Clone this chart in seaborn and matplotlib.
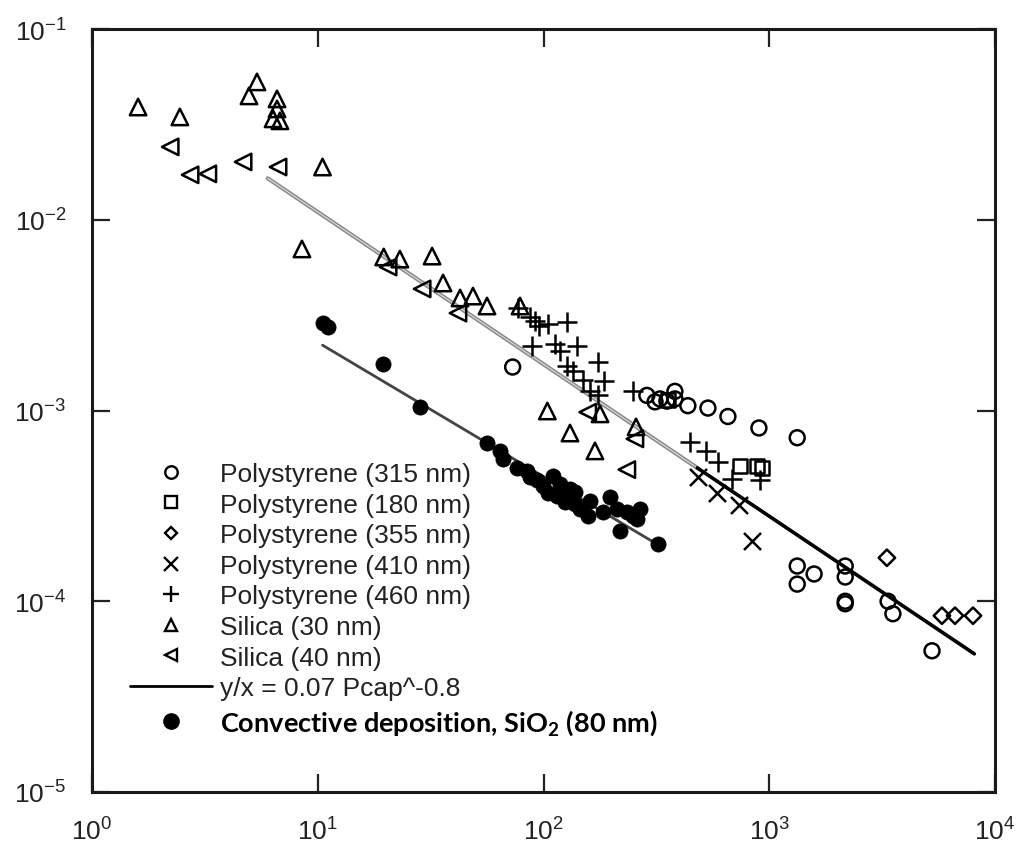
import numpy as np
import pandas as pd
import matplotlib
matplotlib.use("Agg")
import matplotlib.pyplot as plt
import seaborn as sns
from matplotlib.lines import Line2D
from matplotlib.ticker import LogLocator, NullLocator

# Polystyrene (315 nm)
ps315_x = [73, 287, 312, 328, 352, 382, 382, 436, 535, 656, 900, 1330, 1330, 1330, 1580, 2170, 2170, 2170, 2170, 3360, 3530, 5260]
ps315_y = [1.69e-3, 1.20e-3, 1.11e-3, 1.15e-3, 1.12e-3, 1.26e-3, 1.15e-3, 1.06e-3, 1.03e-3, 9.3e-4, 8.1e-4, 7.2e-4,
           1.53e-4, 1.23e-4, 1.39e-4, 1.53e-4, 1.34e-4, 1.0e-4, 9.7e-5, 1.0e-4, 8.6e-5, 5.5e-5]
# Polystyrene (180 nm)
ps180_x = [355, 742, 883, 929]
ps180_y = [1.13e-3, 5.1e-4, 5.1e-4, 5.0e-4]
# Polystyrene (355 nm)
ps355_x = [3320, 5820, 6650, 7990]
ps355_y = [1.69e-4, 8.4e-5, 8.4e-5, 8.4e-5]
# Polystyrene (410 nm)
ps410_x = [483, 587, 735, 839]
ps410_y = [4.5e-4, 3.7e-4, 3.2e-4, 2.07e-4]
# Polystyrene (460 nm)
ps460_x = [77, 87, 92, 96, 105, 127, 89, 112, 118, 141, 127, 135, 174, 150, 185, 161, 174, 249, 446, 525, 593, 684, 910]
ps460_y = [3.44e-3, 3.09e-3, 2.94e-3, 2.77e-3, 2.84e-3, 2.91e-3, 2.18e-3, 2.23e-3, 2.05e-3, 2.18e-3, 1.71e-3, 1.61e-3,
           1.80e-3, 1.45e-3, 1.43e-3, 1.26e-3, 1.21e-3, 1.26e-3, 6.8e-4, 6.1e-4, 5.4e-4, 4.4e-4, 4.3e-4]
# Silica (30 nm)
si30_x = [1.60, 2.45, 5.38, 4.96, 6.60, 6.60, 6.34, 6.80, 10.5, 8.51, 19.6, 23.1, 32.1, 35.9, 42.7, 48.7, 56.2, 78.7,
          104, 131, 169, 178, 257]
si30_y = [3.90e-2, 3.46e-2, 5.28e-2, 4.46e-2, 4.30e-2, 3.81e-2, 3.38e-2, 3.30e-2, 1.89e-2, 7.03e-3, 6.38e-3, 6.22e-3,
          6.45e-3, 4.66e-3, 3.89e-3, 3.98e-3, 3.53e-3, 3.53e-3, 9.94e-4, 7.62e-4, 6.14e-4, 9.6e-4, 8.2e-4]
# Silica (40 nm)
si40_x = [2.22, 2.72, 3.26, 4.67, 6.67, 20.5, 29.0, 41.8, 157, 254, 234]
si40_y = [2.41e-2, 1.72e-2, 1.74e-2, 2.01e-2, 1.89e-2, 5.65e-3, 4.34e-3, 3.24e-3, 9.8e-4, 7.1e-4, 4.9e-4]
# Convective deposition, SiO2 (80 nm)
conv_x = [10.5, 11.1, 19.5, 28.4, 56.2, 64.2, 66.2, 76.3, 84.6, 93.6, 99.5, 110, 105, 115, 125, 131, 138, 145, 161,
          157, 183, 212, 218, 234, 249, 260, 321, 87.1, 118, 138, 197, 267]
conv_y = [2.87e-3, 2.74e-3, 1.75e-3, 1.04e-3, 6.76e-4, 6.14e-4, 5.57e-4, 5.0e-4, 4.82e-4, 4.32e-4, 4.02e-4, 4.54e-4,
          3.69e-4, 3.56e-4, 3.31e-4, 3.88e-4, 3.74e-4, 3.05e-4, 3.36e-4, 2.80e-4, 2.94e-4, 3.05e-4, 2.33e-4, 2.94e-4,
          2.80e-4, 2.70e-4, 2.0e-4, 4.49e-4, 4.12e-4, 3.24e-4, 3.52e-4, 3.05e-4]

# fit lines (end points)
fit_grey_x = [6.0, 480]
fit_grey_y = [1.65e-2, 5.0e-4]
fit_black_x = [480, 8100]
fit_black_y = [5.0e-4, 5.3e-5]
conv_fit_x = [10.5, 328]
conv_fit_y = [2.2e-3, 1.95e-4]

labels = ["Polystyrene (315 nm)", "Polystyrene (180 nm)", "Polystyrene (355 nm)", "Polystyrene (410 nm)",
          "Polystyrene (460 nm)", "Silica (30 nm)", "Silica (40 nm)", "y/x = 0.07 Pcap^-0.8",
          r"Convective deposition, SiO$_\mathbf{2}$ (80 nm)"]

sns.set_style("ticks")
plt.rcParams["font.family"] = ["Liberation Sans", "DejaVu Sans"]
plt.rcParams["mathtext.fontset"] = "custom"
plt.rcParams["mathtext.rm"] = "Liberation Sans"
plt.rcParams["mathtext.bf"] = "Lato:bold"

fig = plt.figure(figsize=(10.26, 8.53), dpi=100)
ax = fig.add_axes([92 / 1026, 60 / 853, 903 / 1026, 763 / 853])
ax.set_xscale("log")
ax.set_yscale("log")

# lines
sns.lineplot(x=fit_grey_x, y=fit_grey_y, color="#8a8a8a", lw=3.0, ax=ax, zorder=2)
sns.lineplot(x=fit_grey_x, y=fit_grey_y, color="#dddddd", lw=0.8, ax=ax, zorder=2)
sns.lineplot(x=fit_black_x, y=fit_black_y, color="black", lw=2.6, ax=ax, zorder=2)
sns.lineplot(x=conv_fit_x, y=conv_fit_y, color="#444444", lw=2.0, ax=ax, zorder=2)

open_kw = dict(facecolor="none", edgecolor="black", linewidth=1.8, ax=ax, legend=False, zorder=3)
sns.scatterplot(x=ps315_x, y=ps315_y, marker="o", s=115, **open_kw)
sns.scatterplot(x=ps180_x, y=ps180_y, marker="s", s=105, **open_kw)
sns.scatterplot(x=ps355_x, y=ps355_y, marker="D", s=70, **open_kw)
sns.scatterplot(x=si30_x, y=si30_y, marker="^", s=140, **open_kw)
sns.scatterplot(x=si40_x, y=si40_y, marker="<", s=140, **open_kw)
sns.scatterplot(x=ps410_x, y=ps410_y, marker="x", s=150, color="black", linewidth=1.8, ax=ax, legend=False, zorder=3)
sns.scatterplot(x=ps460_x, y=ps460_y, marker="+", s=190, color="black", linewidth=1.8, ax=ax, legend=False, zorder=3)
sns.scatterplot(x=conv_x, y=conv_y, marker="o", s=120, color="black", edgecolor="black", linewidth=0.5,
                ax=ax, legend=False, zorder=4)

ax.set_xlim(1, 1e4)
ax.set_ylim(1e-5, 1e-1)
ax.xaxis.set_major_locator(LogLocator(base=10, numticks=10))
ax.yaxis.set_major_locator(LogLocator(base=10, numticks=10))
ax.xaxis.set_minor_locator(NullLocator())
ax.yaxis.set_minor_locator(NullLocator())
ax.tick_params(which="major", direction="in", length=13, width=1.6, top=True, right=True,
               labelsize=19, colors="#222222")
ax.tick_params(axis="x", pad=18)
ax.tick_params(axis="y", pad=18.5)
for sp in ax.spines.values():
    sp.set_linewidth(2.2)
    sp.set_color("#1a1a1a")

# legend
mk = dict(linestyle="none", markerfacecolor="none", markeredgecolor="black", markeredgewidth=1.7)
handles = [
    Line2D([], [], marker="o", markersize=9, **mk),
    Line2D([], [], marker="s", markersize=9, **mk),
    Line2D([], [], marker="D", markersize=6.5, **mk),
    Line2D([], [], marker="x", markersize=10, linestyle="none", color="black", markeredgewidth=1.7),
    Line2D([], [], marker="+", markersize=12, linestyle="none", color="black", markeredgewidth=1.7),
    Line2D([], [], marker="^", markersize=9, **mk),
    Line2D([], [], marker="<", markersize=9, **mk),
    Line2D([], [], color="black", lw=2),
    Line2D([], [], marker="o", markersize=11, linestyle="none", color="black"),
]
leg = ax.legend(handles, labels, loc="upper left", bbox_to_anchor=((130 - 92) / 903, (793 - 463) / 763),
                frameon=False, fontsize=19, borderpad=0, borderaxespad=0, handlelength=3.1,
                handletextpad=0.3, labelspacing=0.25)
for t in leg.get_texts():
    t.set_color("#222222")
leg.get_texts()[-1].set_fontfamily("Lato")
leg.get_texts()[-1].set_fontweight("bold")
leg.get_texts()[-1].set_fontsize(19.5)
leg.get_texts()[-1].set_color("black")

fig.savefig("out.png", dpi=100)
